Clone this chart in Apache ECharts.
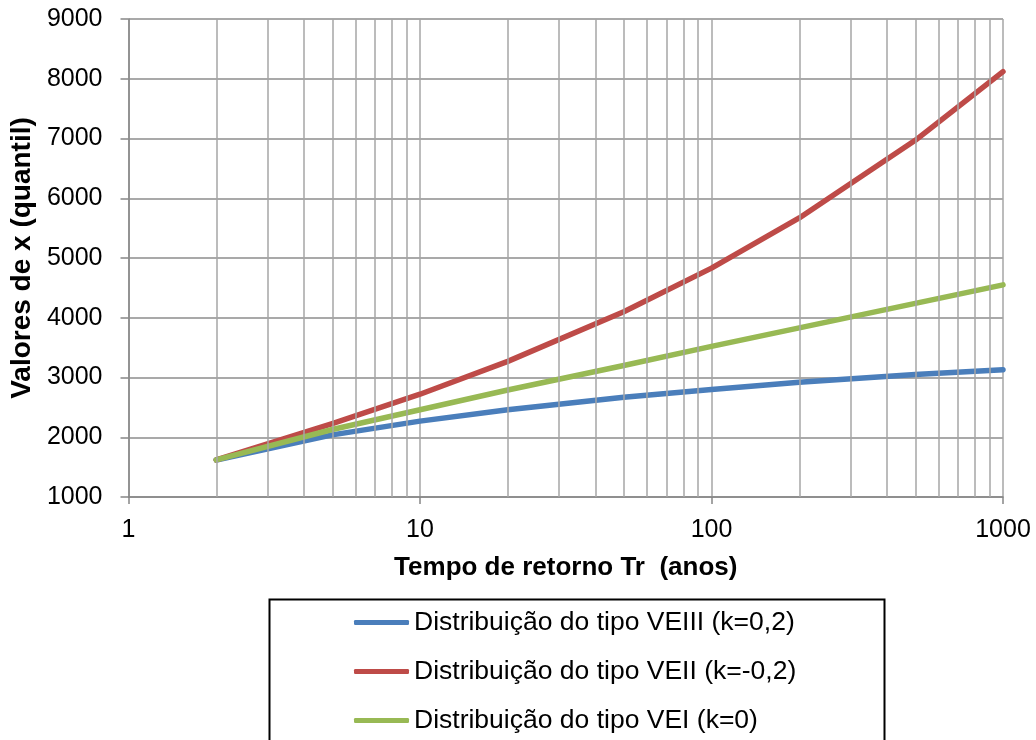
<!DOCTYPE html>
<html>
<head>
<meta charset="utf-8">
<script src="https://cdn.jsdelivr.net/npm/echarts@6/dist/echarts.min.js"></script>
<style>
  html, body { margin: 0; padding: 0; background: #fff; }
  #main { width: 1036px; height: 740px; }
</style>
</head>
<body>
<div id="main"></div>
<script>
// tempo de retorno (anos)
var returnPeriods = [2, 5, 10, 20, 50, 100, 200, 500, 1000];
// quantis
var veiii = [1620, 2040, 2270, 2460, 2670, 2800, 2920, 3050, 3130];
var veii = [1620, 2230, 2720, 3270, 4100, 4830, 5670, 6970, 8120];
var vei = [1620, 2130, 2460, 2790, 3200, 3520, 3830, 4240, 4550];
// linhas de grade secundarias do eixo log
var minorTicks = [2, 3, 4, 5, 6, 7, 8, 9, 20, 30, 40, 50, 60, 70, 80, 90, 200, 300, 400, 500, 600, 700, 800, 900];
var seriesNames = [
  "Distribuição do tipo VEIII (k=0,2)",
  "Distribuição do tipo VEII (k=-0,2)",
  "Distribuição do tipo VEI (k=0)"
];

var FONT = "Liberation Sans, Arial, sans-serif";
var GRID = "#a6a6a6";

function pairs(ys) {
  return returnPeriods.map(function (t, i) { return [t, ys[i]]; });
}

function lineSeries(name, ys, color) {
  return {
    name: name,
    type: "line",
    data: pairs(ys),
    symbol: "none",
    smooth: false,
    z: 3,
    lineStyle: { color: color, width: 5.5, cap: "round", join: "round" },
    itemStyle: { color: color },
    emphasis: { disabled: true }
  };
}

var chart = echarts.init(document.getElementById("main"), null, { renderer: "canvas" });

chart.setOption({
  animation: false,
  backgroundColor: "#fff",
  textStyle: { fontFamily: FONT },
  grid: { left: 128, right: 33, top: 19, bottom: 243, containLabel: false },
  xAxis: {
    type: "log",
    logBase: 10,
    min: 1,
    max: 1000,
    name: "Tempo de retorno Tr  (anos)",
    nameLocation: "middle",
    nameGap: 58,
    nameTextStyle: { fontSize: 26, fontWeight: "bold", color: "#000", fontFamily: FONT },
    axisLine: { show: true, lineStyle: { color: "#868686", width: 1.5 } },
    axisTick: { show: true, length: 7, lineStyle: { color: "#868686", width: 1.5 } },
    axisLabel: {
      fontSize: 25, color: "#000", margin: 21, fontFamily: FONT,
      formatter: function (v) { return String(v); }
    },
    splitLine: { show: true, lineStyle: { color: GRID, width: 1.5 } }
  },
  yAxis: {
    type: "value",
    min: 1000,
    max: 9000,
    interval: 1000,
    name: "Valores de x (quantil)",
    nameLocation: "middle",
    nameGap: 91,
    nameRotate: 90,
    nameTextStyle: { fontSize: 28, fontWeight: "bold", color: "#000", fontFamily: FONT },
    axisLine: { show: true, lineStyle: { color: "#868686", width: 1.5 } },
    axisTick: { show: true, length: 8, lineStyle: { color: "#868686", width: 1.5 } },
    axisLabel: {
      fontSize: 25, color: "#000", margin: 26, fontFamily: FONT,
      formatter: function (v) { return String(v); }
    },
    splitLine: { show: true, lineStyle: { color: "#8c8c8c", width: 1.5 } }
  },
  legend: {
    data: seriesNames,
    orient: "vertical",
    left: 354,
    top: 609,
    height: 200,
    padding: 0,
    icon: "roundRect",
    itemWidth: 55,
    itemHeight: 5,
    itemGap: 22,
    textStyle: { fontSize: 26.5, lineHeight: 26, color: "#000", fontFamily: FONT },
    selectedMode: false
  },
  graphic: [
    {
      type: "rect",
      left: 267,
      top: 597,
      shape: { width: 615, height: 200 },
      style: { fill: "none", stroke: "#000", lineWidth: 2 },
      silent: true
    }
  ],
  series: [
    {
      name: "grade",
      type: "line",
      data: [],
      z: 1,
      silent: true,
      markLine: {
        silent: true,
        symbol: ["none", "none"],
        animation: false,
        label: { show: false },
        emphasis: { disabled: true },
        lineStyle: { type: "solid", color: GRID, width: 1.5 },
        data: minorTicks.map(function (t) { return { xAxis: t }; })
      }
    },
    lineSeries(seriesNames[0], veiii, "#4a7ebb"),
    lineSeries(seriesNames[1], veii, "#be4b48"),
    lineSeries(seriesNames[2], vei, "#98b954")
  ]
});
</script>
</body>
</html>
